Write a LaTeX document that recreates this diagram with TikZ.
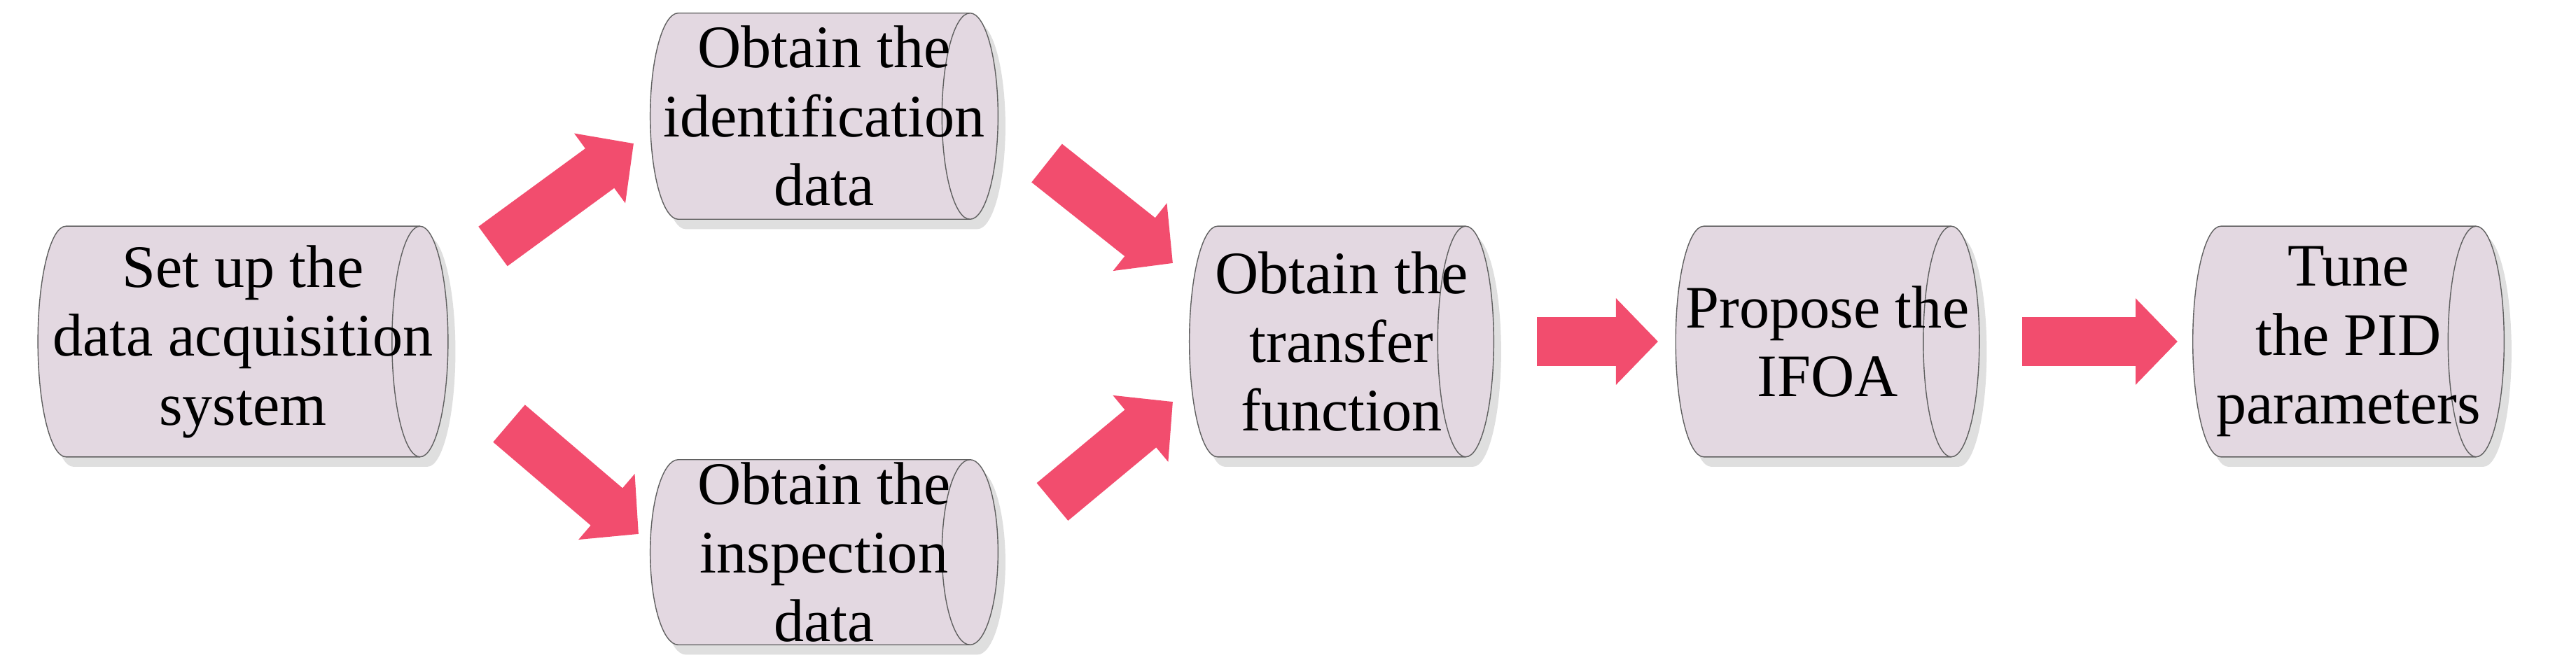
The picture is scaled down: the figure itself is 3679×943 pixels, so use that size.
\documentclass[tikz,border=0pt]{standalone}
\usepackage{fontspec}
\setmainfont{Liberation Serif}
\usetikzlibrary{arrows.meta,shadows,backgrounds,calc}
\definecolor{boxfill}{HTML}{E3D8E1}
\definecolor{arr}{HTML}{F24D6E}
\newcommand{\cylbox}[1]{%
  \begin{scope}[on background layer]
  \path let \p1=(#1.north west), \p2=(#1.south east), \n1={(\y1-\y2)/2} in
    [draw=gray!75!black,fill=boxfill,thin,drop shadow={opacity=0.25,shadow xshift=3pt,shadow yshift=-4pt}]
    (\x1+0.4cm,\y1) -- (\x2-0.4cm,\y1) arc[start angle=90,end angle=-90,x radius=0.4cm,y radius=\n1]
    -- (\x1+0.4cm,\y2) arc[start angle=270,end angle=90,x radius=0.4cm,y radius=\n1] -- cycle;
  \path let \p1=(#1.north west), \p2=(#1.south east), \n1={(\y1-\y2)/2} in
    [draw=gray!75!black,thin] (\x2-0.4cm,\y1) arc[start angle=90,end angle=270,x radius=0.4cm,y radius=\n1];
  \end{scope}}
\begin{document}
\begin{tikzpicture}[x=0.01cm,y=-0.01cm,
  box/.style={align=center,font=\fontsize{24.5}{28}\selectfont,inner sep=0pt},
  fat/.style={draw=arr,line width=0.7cm,-{Triangle[width=1.2cm,length=0.6cm]}}]
\useasboundingbox (0,0) rectangle (3679,943);
\node[box,minimum width=5.84cm,minimum height=3.28cm] (n1) at (347,488) {Set up the\\data acquisition\\system};
\node[box,minimum width=4.95cm,minimum height=2.93cm] (n2) at (1177,166) {Obtain the\\identification\\data};
\node[box,minimum width=4.95cm,minimum height=2.63cm] (n3) at (1177,789) {Obtain the\\inspection\\data};
\node[box,minimum width=4.33cm,minimum height=3.28cm] (n4) at (1916,488) {Obtain the\\transfer\\function};
\node[box,minimum width=4.32cm,minimum height=3.28cm] (n5) at (2610,488) {Propose the\\IFOA};
\node[box,minimum width=4.43cm,minimum height=3.28cm] (n6) at (3354,488) {Tune\\the PID\\parameters};
\cylbox{n1}\cylbox{n2}\cylbox{n3}\cylbox{n4}\cylbox{n5}\cylbox{n6}
\coordinate (a1s) at (704,352); \coordinate (a1e) at (905,205);
\coordinate (a2s) at (727,605); \coordinate (a2e) at (912,763);
\coordinate (a3s) at (1495,233); \coordinate (a3e) at (1675,376);
\coordinate (a4s) at (1503,717); \coordinate (a4e) at (1675,574);
\coordinate (a5s) at (2195,488); \coordinate (a5e) at (2368,488);
\coordinate (a6s) at (2888,488); \coordinate (a6e) at (3110,488);
\draw[fat] (a1s) -- (a1e);
\draw[fat] (a2s) -- (a2e);
\draw[fat] (a3s) -- (a3e);
\draw[fat] (a4s) -- (a4e);
\draw[fat] (a5s) -- (a5e);
\draw[fat] (a6s) -- (a6e);
\end{tikzpicture}
\end{document}
